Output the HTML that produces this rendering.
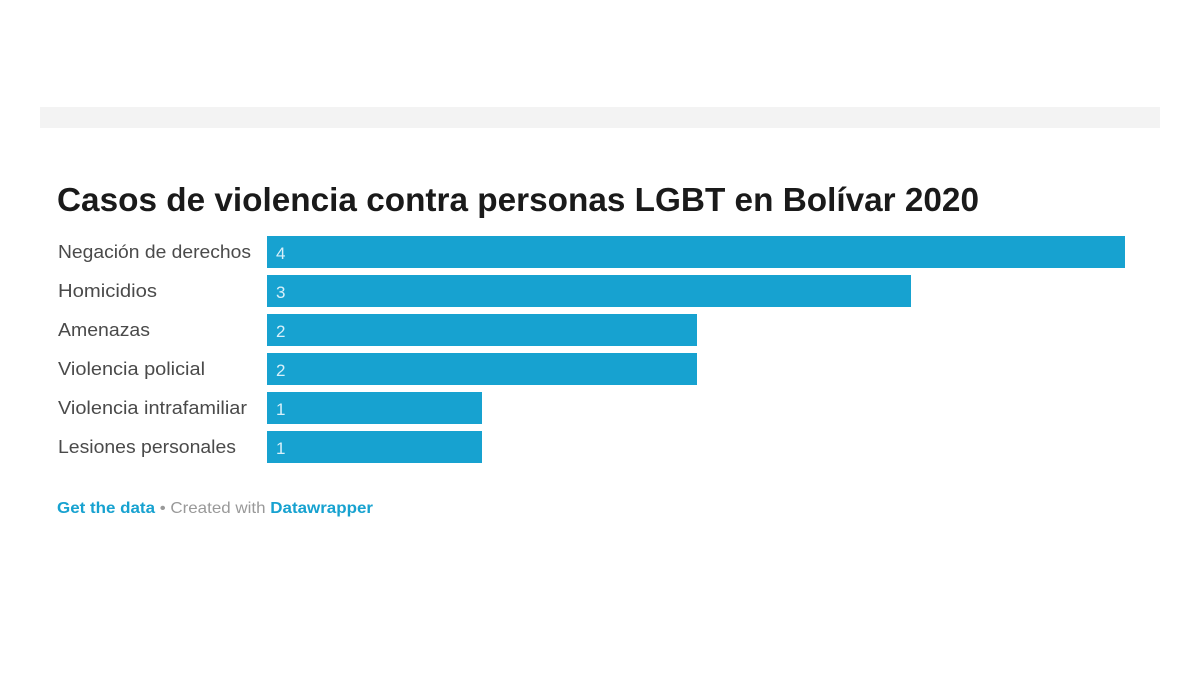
<!DOCTYPE html>
<html><head><meta charset="utf-8"><style>
html,body{margin:0;padding:0;background:#fff;}
</style></head><body>
<svg width="1200" height="676" xmlns="http://www.w3.org/2000/svg" font-family="Liberation Sans, sans-serif">
<rect x="0" y="0" width="1200" height="676" fill="#fff"/>
<rect x="40" y="107" width="1120" height="21" fill="#f3f3f3"/>
<text x="57" y="211" font-size="33" font-weight="bold" fill="#1a1a1a" textLength="922" lengthAdjust="spacingAndGlyphs">Casos de violencia contra personas LGBT en Bolívar 2020</text>
<g fill="#17a2d0">
<rect x="267" y="236" width="858" height="32"/>
<rect x="267" y="275" width="644" height="32"/>
<rect x="267" y="314" width="430" height="32"/>
<rect x="267" y="353" width="430" height="32"/>
<rect x="267" y="392" width="215" height="32"/>
<rect x="267" y="431" width="215" height="32"/>
</g>
<g font-size="18" fill="#4a4a4a" lengthAdjust="spacingAndGlyphs">
<text x="58" y="258" textLength="193" lengthAdjust="spacingAndGlyphs">Negación de derechos</text>
<text x="58" y="297" textLength="99" lengthAdjust="spacingAndGlyphs">Homicidios</text>
<text x="58" y="336" textLength="92" lengthAdjust="spacingAndGlyphs">Amenazas</text>
<text x="58" y="375" textLength="147" lengthAdjust="spacingAndGlyphs">Violencia policial</text>
<text x="58" y="414" textLength="189" lengthAdjust="spacingAndGlyphs">Violencia intrafamiliar</text>
<text x="58" y="453" textLength="178" lengthAdjust="spacingAndGlyphs">Lesiones personales</text>
</g>
<g font-size="17" fill="#d8f0fa">
<text x="276" y="259">4</text>
<text x="276" y="298">3</text>
<text x="276" y="337">2</text>
<text x="276" y="376">2</text>
<text x="276" y="415">1</text>
<text x="276" y="454">1</text>
</g>
<text x="57" y="513" font-size="16" textLength="316" lengthAdjust="spacingAndGlyphs"><tspan fill="#17a2d0" font-weight="bold">Get the data</tspan><tspan fill="#999"> • Created with </tspan><tspan fill="#17a2d0" font-weight="bold">Datawrapper</tspan></text>
</svg>
</body></html>
